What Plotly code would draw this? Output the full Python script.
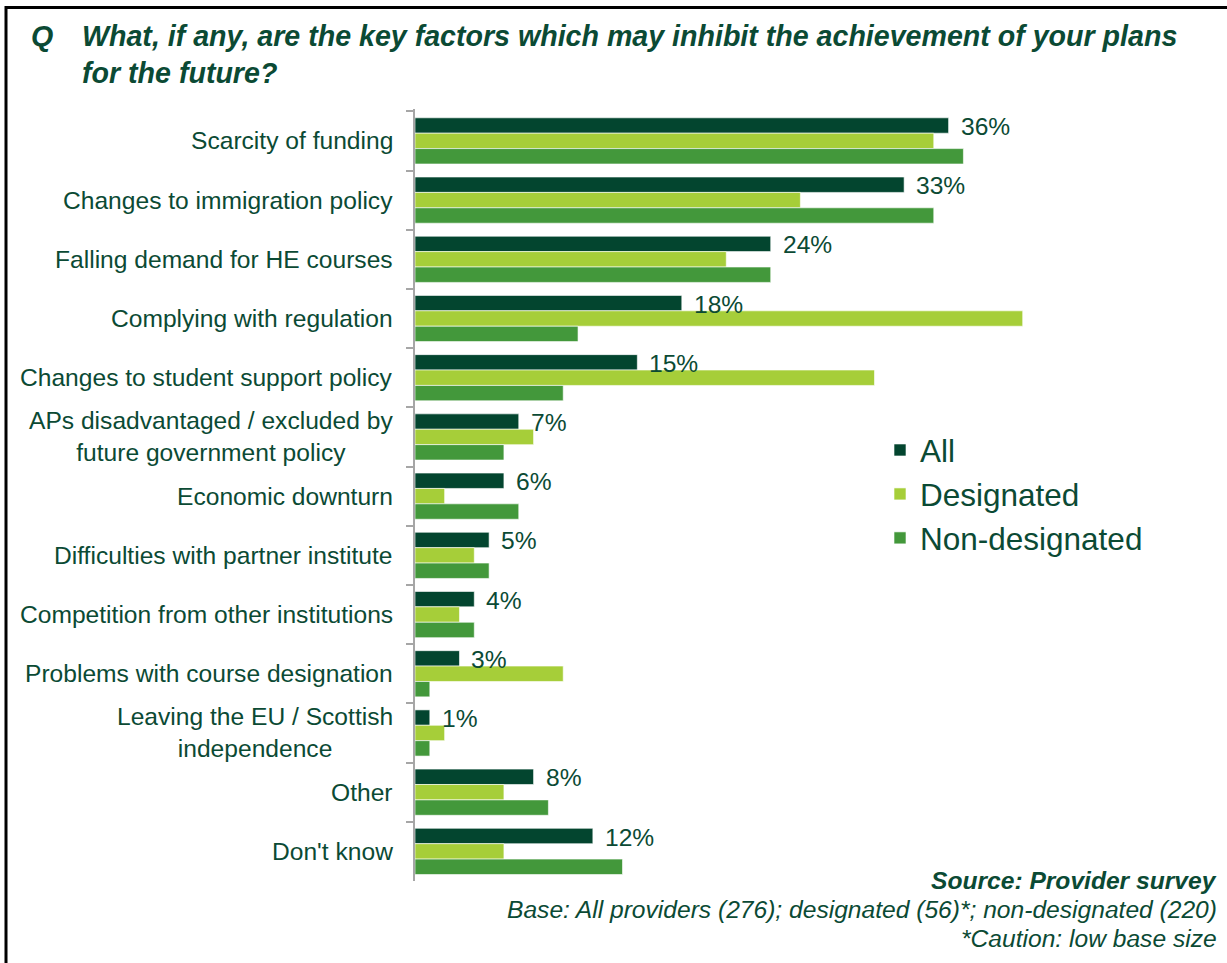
import plotly.graph_objects as go

# Survey categories (top to bottom)
categories = [
    "Scarcity of funding",
    "Changes to immigration policy",
    "Falling demand for HE courses",
    "Complying with regulation",
    "Changes to student support policy",
    "APs disadvantaged / excluded by<br>future government policy",
    "Economic downturn",
    "Difficulties with partner institute",
    "Competition from other institutions",
    "Problems with course designation",
    "Leaving the EU / Scottish<br>independence",
    "Other",
    "Don't know",
]

# Share of providers citing each factor (%)
all_providers = [36, 33, 24, 18, 15, 7, 6, 5, 4, 3, 1, 8, 12]
designated = [35, 26, 21, 41, 31, 8, 2, 4, 3, 10, 2, 6, 6]
non_designated = [37, 35, 24, 11, 10, 6, 7, 5, 4, 1, 1, 9, 14]

series_names = ["All", "Designated", "Non-designated"]
series_colors = ["#03452f", "#a6ce39", "#43983b"]

source_lines = [
    "<b><i>Source: Provider survey</i></b>",
    "<i>Base: All providers (276); designated (56)*; non-designated (220)</i>",
    "<i>*Caution: low base size</i>",
]

TEXT = "#0b4a34"
FONT = "Liberation Sans, Arial, sans-serif"
W, H = 1227, 963
BARGAP = 0.22


def px(x):
    return x / W


def py(y):
    return 1 - y / H


fig = go.Figure()
for name, vals, color in zip(series_names,
                             [all_providers, designated, non_designated],
                             series_colors):
    fig.add_trace(go.Bar(
        y=categories, x=vals, name=name, orientation="h",
        marker=dict(color=color, line=dict(color="rgba(255,255,255,0.6)", width=1)),
        legendgroup=name, hoverinfo="x+name",
    ))

annotations = []

# Category labels, right-aligned against the axis, multi-line centred
for cat in categories:
    annotations.append(dict(
        x=0, y=cat, xref="x", yref="y", text=cat, showarrow=False,
        xanchor="right", yanchor="middle", align="center", xshift=-20,
        font=dict(family=FONT, size=24.6, color=TEXT),
    ))

# Value labels on the "All" bars
bar_w = (1 - BARGAP) / 3
for i, v in enumerate(all_providers):
    annotations.append(dict(
        x=v, y=i - bar_w, xref="x", yref="y", text=f"{v}%", showarrow=False,
        xanchor="left", yanchor="middle", xshift=10, yshift=-1,
        font=dict(family=FONT, size=24.6, color=TEXT),
    ))

# Question heading
annotations.append(dict(
    x=px(29), y=py(18), xref="paper", yref="paper", text="<b><i>Q</i></b>",
    showarrow=False, xanchor="left", yanchor="top",
    font=dict(family=FONT, size=28.6, color=TEXT),
))
annotations.append(dict(
    x=px(80), y=py(18), xref="paper", yref="paper",
    text="<b><i>What, if any, are the key factors which may inhibit the achievement of your plans<br>for the future?</i></b>",
    showarrow=False, xanchor="left", yanchor="top", align="left",
    font=dict(family=FONT, size=28.6, color=TEXT),
))

# Source note, one line per annotation
for line, yc in zip(source_lines, [880, 909, 938]):
    annotations.append(dict(
        x=px(1219), y=py(yc), xref="paper", yref="paper", text=line,
        showarrow=False, xanchor="right", yanchor="middle", align="right",
        font=dict(family=FONT, size=24.6, color=TEXT),
    ))

fig.update_layout(
    width=W, height=H,
    margin=dict(l=0, r=0, t=0, b=0),
    paper_bgcolor="white", plot_bgcolor="white",
    barmode="group", bargap=BARGAP, bargroupgap=0,
    font=dict(family=FONT, color=TEXT),
    xaxis=dict(domain=[px(415), px(1082)], range=[0, 45],
               showgrid=False, zeroline=False, showticklabels=False,
               showline=False, fixedrange=True),
    yaxis=dict(domain=[py(881), py(109)], autorange="reversed",
               type="category", showgrid=False, showticklabels=False,
               showline=True, linecolor="#a6a6a6", linewidth=1.5,
               ticks="outside", ticklen=7, tickcolor="#a6a6a6", tickwidth=1.5,
               tickson="boundaries", fixedrange=True),
    legend=dict(x=px(880), y=py(423), xanchor="left", yanchor="top",
                font=dict(family=FONT, size=31.5, color=TEXT),
                traceorder="normal", tracegroupgap=10,
                bgcolor="rgba(0,0,0,0)", itemwidth=30),
    annotations=annotations,
    shapes=[dict(type="rect", xref="paper", yref="paper",
                 x0=px(6), x1=px(W + 20), y0=py(H + 20), y1=py(7.5),
                 line=dict(color="black", width=3), fillcolor="rgba(0,0,0,0)",
                 layer="above")],
)

fig.write_html("out.html")
